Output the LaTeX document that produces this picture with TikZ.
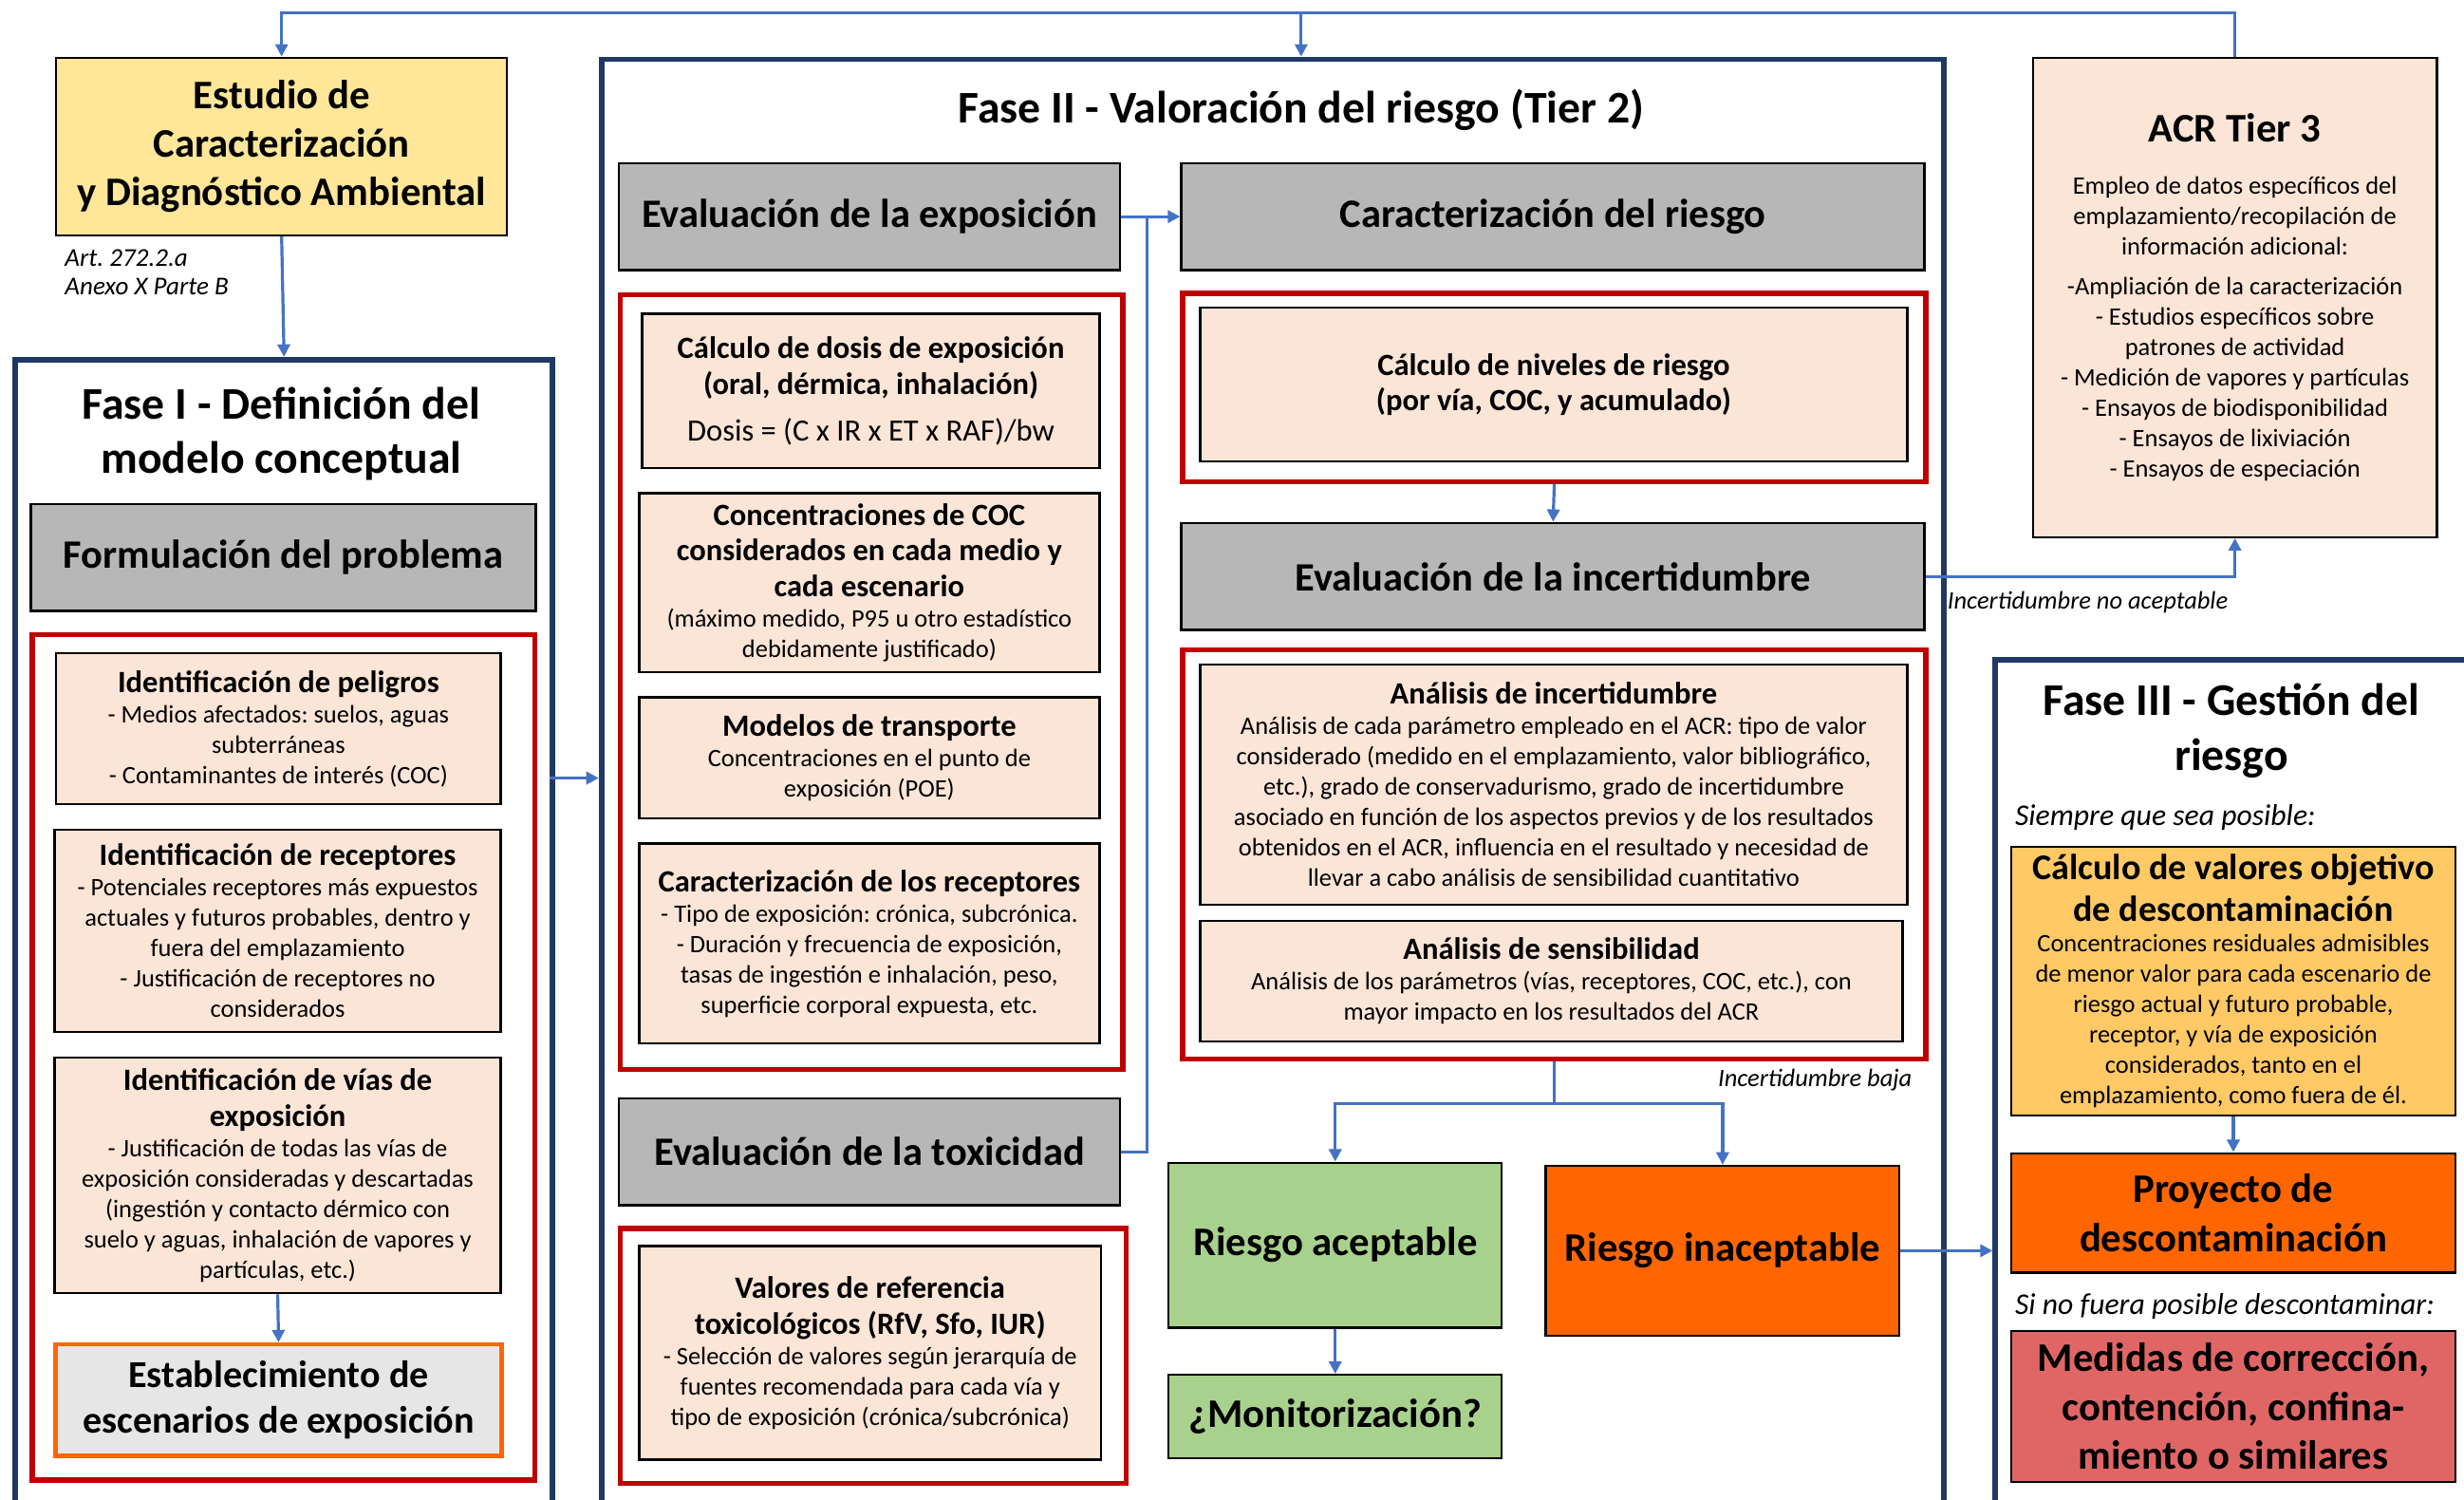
\documentclass[tikz,border=0pt]{standalone}
\usepackage{fontspec}
\setmainfont{Carlito}
\usetikzlibrary{arrows.meta}
\frenchspacing
\newlength{\pw}
\setlength{\pw}{0.02cm}
\definecolor{navy}{HTML}{203864}
\definecolor{redframe}{HTML}{C00000}
\definecolor{flowblue}{HTML}{4472C4}
\definecolor{peach}{HTML}{FBE5D6}
\definecolor{headgray}{HTML}{B7B7B7}
\definecolor{sand}{HTML}{FFE699}
\definecolor{leaf}{HTML}{A9D18E}
\definecolor{tangerine}{HTML}{FF6600}
\definecolor{goldbox}{HTML}{FFC966}
\definecolor{rosered}{HTML}{E06666}
\definecolor{palegray}{HTML}{E7E6E6}
\newcommand{\fs}[2]{\fontsize{#1}{#2}\selectfont}
\newcommand{\cardtitle}[1]{{\bfseries\fs{11.2}{13}#1\par}}

\tikzset{
  base/.style={anchor=north west, inner sep=0pt, align=flush center},
  sized/.code 2 args={\pgfmathsetlengthmacro\tw{(#1-8)*\pw}
    \tikzset{minimum width=#1*\pw, minimum height=#2*\pw, text width=\tw}},
  phase/.style={base, draw=navy, line width=2pt},
  redbox/.style={base, draw=redframe, line width=1.8pt},
  header/.style={base, draw, line width=0.9pt, fill=headgray, font=\bfseries\fs{14.6}{16.5}},
  card/.style={base, draw, line width=0.8pt, fill=peach, font=\fs{9.1}{11}},
  bigbox/.style={base, draw, line width=0.8pt, font=\bfseries\fs{14.7}{17.6}},
  phasetitle/.style={align=flush center, inner sep=0pt, font=\bfseries\fs{16.4}{19.8}},
  flow/.style={draw=flowblue, line width=1.1pt, -{Triangle[width=4.5pt,length=4.5pt]}},
  link/.style={draw=flowblue, line width=1.1pt},
  note/.style={anchor=west, inner sep=0pt, align=flush left, font=\itshape\fs{9.1}{10.5}}
}

\begin{document}
\begin{tikzpicture}[x=\pw, y=-\pw]
\useasboundingbox (0,0) rectangle (1568,954);
\clip (0,0) rectangle (1568,954);

% ---- Estudio y Fase I
\node[bigbox, sized={287}{113}, fill=sand] (estudio) at (35,36) {Estudio de\\Caracterización\\y Diagnóstico Ambiental};
\node[note, font=\itshape\fs{9.3}{10.3}] (art) at (41,173) {Art. 272.2.a\\Anexo X Parte B};

\node[phase, sized={342}{760}] (fase1) at (8,227) {};
\node[phasetitle] (fase1title) at (179,276) {Fase I - Definición del\\modelo conceptual};
\node[header, sized={321}{68}] (problema) at (19,320) {Formulación del problema};
\node[redbox, sized={320}{538}] (rprob) at (19,402) {};
\node[card, sized={283}{96}] (peligros) at (35,415) {\cardtitle{Identificación de peligros}
  - Medios afectados: suelos, aguas\\subterráneas\\- Contaminantes de interés (COC)};
\node[card, sized={284}{129}] (receptores) at (34,527) {\cardtitle{Identificación de receptores}
  - Potenciales receptores más expuestos\\actuales y futuros probables, dentro y\\fuera del emplazamiento\\- Justificación de receptores no\\considerados};
\node[card, sized={284}{150}] (vias) at (34,672) {\cardtitle{Identificación de vías de\\exposición}
  - Justificación de todas las vías de\\exposición consideradas y descartadas\\(ingestión y contacto dérmico con\\suelo y aguas, inhalación de vapores y\\partículas, etc.)};
\node[bigbox, sized={284}{71}, fill=palegray, draw=tangerine, line width=1.5pt, font=\bfseries\fs{13.8}{16.4}] (escenarios) at (34,854) {Establecimiento de\\escenarios de exposición};

% ---- Fase II
\node[phase, sized={854}{930}] (fase2) at (381,36) {};
\node[phasetitle] (fase2title) at (828,70) {Fase II - Valoración del riesgo (Tier 2)};
\node[header, sized={319}{68}] (exposicion) at (393,103) {Evaluación de la exposición};
\node[redbox, sized={320}{493}] (rexp) at (393,186) {};
\node[card, sized={291}{98}] (dosis) at (408,199) {\cardtitle{Cálculo de dosis de exposición\\(oral, dérmica, inhalación)}
  {\fs{11.2}{16.8}Dosis = (C x IR x ET x RAF)/bw\par}};
\node[card, sized={293}{114}] (coc) at (406,313) {\cardtitle{Concentraciones de COC\\considerados en cada medio y\\cada escenario}
  (máximo medido, P95 u otro estadístico\\debidamente justificado)};
\node[card, sized={293}{77}] (transporte) at (406,443) {\cardtitle{Modelos de transporte}
  Concentraciones en el punto de\\exposición (POE)};
\node[card, sized={293}{127}] (caracrec) at (406,536) {\cardtitle{Caracterización de los receptores}
  - Tipo de exposición: crónica, subcrónica.\\- Duración y frecuencia de exposición,\\tasas de ingestión e inhalación, peso,\\superficie corporal expuesta, etc.};
\node[header, sized={319}{68}] (toxicidad) at (393,698) {Evaluación de la toxicidad};
\node[redbox, sized={322}{162}] (rtox) at (393,780) {};
\node[card, sized={294}{136}] (valores) at (406,792) {\cardtitle{Valores de referencia\\toxicológicos (RfV, Sfo, IUR)}
  - Selección de valores según jerarquía de\\fuentes recomendada para cada vía y\\tipo de exposición (crónica/subcrónica)};

\node[header, sized={473}{68}] (riesgo) at (751,103) {Caracterización del riesgo};
\node[redbox, sized={473}{120}] (rniv) at (751,185) {};
\node[card, sized={450}{98}] (niveles) at (763,195) {\cardtitle{Cálculo de niveles de riesgo\\(por vía, COC, y acumulado)}};
\node[header, sized={473}{68}] (incert) at (751,332) {Evaluación de la incertidumbre};
\node[redbox, sized={473}{260}] (rinc) at (751,412) {};
\node[card, sized={450}{153}] (anincert) at (763,422) {\cardtitle{Análisis de incertidumbre}
  Análisis de cada parámetro empleado en el ACR: tipo de valor\\considerado (medido en el emplazamiento, valor bibliográfico,\\etc.), grado de conservadurismo, grado de incertidumbre\\asociado en función de los aspectos previos y de los resultados\\obtenidos en el ACR, influencia en el resultado y necesidad de\\llevar a cabo análisis de sensibilidad cuantitativo};
\node[card, sized={447}{77}] (ansens) at (763,585) {\cardtitle{Análisis de sensibilidad}
  Análisis de los parámetros (vías, receptores, COC, etc.), con\\mayor impacto en los resultados del ACR};
\node[bigbox, sized={212}{105}, fill=leaf] (aceptable) at (743,739) {Riesgo aceptable};
\node[bigbox, sized={225}{108}, fill=tangerine] (inaceptable) at (983,741) {Riesgo inaceptable};
\node[bigbox, sized={212}{53}, fill=leaf] (monitor) at (743,874) {¿Monitorización?};

% ---- ACR Tier 3
\node[card, sized={257}{305}] (acr) at (1293,36) {{\bfseries\fs{14.7}{17}ACR Tier 3\par}\vspace{8pt}
  Empleo de datos específicos del\\emplazamiento/recopilación de\\información adicional:\par\vspace{3.4pt}
  -Ampliación de la caracterización\\- Estudios específicos sobre\\patrones de actividad\\- Medición de vapores y partículas\\- Ensayos de biodisponibilidad\\- Ensayos de lixiviación\\- Ensayos de especiación};

% ---- Fase III
\node[phase, sized={340}{560}] (fase3) at (1268,418) {};
\node[phasetitle] (fase3title) at (1420,465) {Fase III - Gestión del\\riesgo};
\node[note, font=\itshape\fs{10.9}{12}] (siempre) at (1282,520) {Siempre que sea posible:};
\node[card, sized={283}{171}, fill=goldbox] (objetivo) at (1279,538) {{\bfseries\fs{13.1}{15.3}Cálculo de valores objetivo\\de descontaminación\par}
  Concentraciones residuales admisibles\\de menor valor para cada escenario de\\riesgo actual y futuro probable,\\receptor, y vía de exposición\\considerados, tanto en el\\emplazamiento, como fuera de él.};
\node[bigbox, sized={283}{76}, fill=tangerine] (proyecto) at (1279,733) {Proyecto de\\descontaminación};
\node[note, font=\itshape\fs{10.9}{12}] (sinofuera) at (1282,831) {Si no fuera posible descontaminar:};
\node[bigbox, sized={283}{96}, fill=rosered] (medidas) at (1279,846) {Medidas de corrección,\\contención, confina-\\miento o similares};

% ---- connectors
\coordinate (topline) at (0,8);
\coordinate (join) at (730,137);
\coordinate (f1out) at (350,495);
\draw[flow] (acr.north) |- (topline -| estudio.north) -- (estudio.north);
\draw[flow] (topline -| fase2title.north) -- (fase2.north -| fase2title.north);
\draw[flow] (estudio.south) -- (fase1.north);
\draw[flow] (vias.south) -- (escenarios.north);
\draw[flow] (f1out) -- (f1out -| fase2.west);
\draw[flow] (exposicion.east) -- (riesgo.west);
\draw[link] (toxicidad.east) -| (join);
\draw[flow] (rniv.south) -- (incert.north);
\draw[flow] (incert.east) -| (acr.south);
\node[note] (noacept) at (1239,383) {Incertidumbre no aceptable};
\draw[link] (rinc.south) -- ++(0,27) coordinate (split);
\draw[flow] (split) -| (aceptable.north);
\draw[flow] (split) -| (inaceptable.north);
\node[note, anchor=east] (baja) at (1217,687) {Incertidumbre baja};
\draw[flow] (aceptable.south) -- (monitor.north);
\draw[flow] (inaceptable.east) -- (inaceptable.east -| fase3.west);
\draw[flow] (objetivo.south) -- (proyecto.north);
\end{tikzpicture}
\end{document}
